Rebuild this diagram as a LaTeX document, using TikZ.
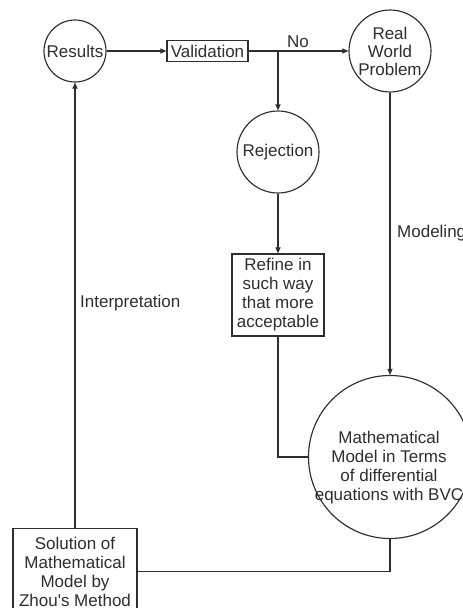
\documentclass[tikz,border=0pt]{standalone}
\usepackage{fontspec}
\setmainfont{Liberation Sans}
\usetikzlibrary{arrows.meta}
\definecolor{ink}{HTML}{2E2E2E}
\begin{document}
\begin{tikzpicture}[x=1pt,y=-1pt,
  every node/.style={font=\fontsize{17}{19}\selectfont, text=ink},
  stage/.style={draw=ink, line width=1.15pt, circle, inner sep=0pt, align=center},
  panel/.style={draw=ink, line width=1.15pt, rectangle, inner sep=0pt, align=center},
  flow/.style={draw=ink, line width=1.15pt, -{Triangle[length=6pt,width=5pt]}},
  link/.style={draw=ink, line width=1.15pt},
  tag/.style={inner sep=0pt}]
\useasboundingbox (0,0) rectangle (463,608);
\clip (0,0) rectangle (463,608);

% stages of the modelling cycle
\node[stage, minimum size=62pt] (res) at (75,51) {Results};
\node[panel, minimum width=81pt, minimum height=21pt] (val) at (207.5,51) {Validation};
\node[stage, minimum size=82pt] (rwp) at (390,51) {Real\\[-1pt]World\\[-1pt]Problem};
\node[stage, minimum size=82pt] (rej) at (278,152) {Rejection};
\node[panel, minimum width=92pt, minimum height=82pt] (ref) at (278,295)
  {Refine in\\such way\\that more\\acceptable};
\node[stage, minimum size=163pt] (mm) at (390,457) {};
\node[tag, align=center] (mmtext) at (389,468)
  {Mathematical\\Model in Terms\\of differential\\equations with BVC};
\node[panel, minimum width=124pt, minimum height=86pt, anchor=north] (sol) at (75,528)
  {Solution of\\Mathematical\\Model by\\Zhou\textquotesingle s Method};

% branch point after validation
\coordinate (split) at (rej |- val);

% connectors
\draw[flow] (res) -- (val);
\draw[flow] (val) -- (rwp);
\draw[flow] (split) -- (rej);
\draw[flow] (rej) -- (ref);
\draw[link] (ref.south) |- (mm.west);
\draw[flow] (rwp) -- (mm);
\draw[link] (mm.south) |- (sol.east);
\draw[flow] (sol) -- (res);

% edge labels
\node[tag] (no) at (298,42) {No};
\node[tag, anchor=west] (modeling) at (397,233) {Modeling};
\node[tag, anchor=west] (interp) at (80,303) {Interpretation};
\end{tikzpicture}
\end{document}
